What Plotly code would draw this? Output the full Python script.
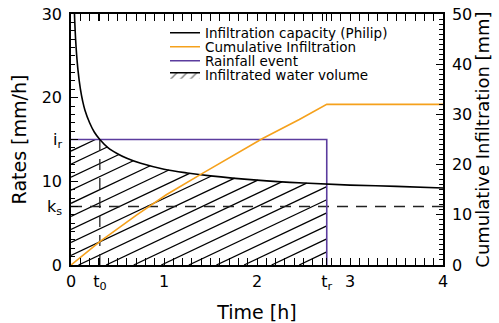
import numpy as np
import plotly.graph_objects as go

# ---------------- data ----------------
t_curve = [0.03, 0.04, 0.05, 0.06, 0.075, 0.1, 0.125, 0.15, 0.2, 0.25, 0.31, 0.4,
           0.5, 0.6, 0.75, 1.0, 1.25, 1.5, 2.0, 2.5, 3.0, 3.5, 4.0]
f_curve = [32.7, 29.2, 26.9, 25.2, 23.3, 21.1, 19.6, 18.5, 17.0, 15.9, 15.0, 14.0,
           13.3, 12.75, 12.15, 11.45, 11.0, 10.65, 10.15, 9.8, 9.55, 9.4, 9.2]

t_cum = [0, 0.31, 0.7, 1.025, 1.418, 2.06, 2.455, 2.75, 4.0]
F_cum = [0, 4.65, 9.9, 14.0, 18.3, 25.2, 29.0, 32.0, 32.0]

ir = 15.0      # rainfall intensity [mm/h]
ks = 7.0       # saturated conductivity [mm/h]
t0 = 0.31      # ponding time [h]
tr = 2.75      # end of rainfall [h]

x_tickvals = [0, t0, 1, 2, tr, 3, 4]
x_ticktext = ["0", "t<sub>0</sub>", "1", "2", "t<sub>r</sub>", "3", "4"]
y_tickvals = [0, ks, 10, ir, 20, 30]
y_ticktext = ["0", "k<sub>s</sub>", "10", "i<sub>r</sub>", "20", "30"]
y2_tickvals = [0, 10, 20, 30, 40, 50]

legend_labels = ["Infiltration capacity (Philip)", "Cumulative Infiltration",
                 "Rainfall event", "Infiltrated water volume"]

# ---------------- styles ----------------
BLACK = "#000000"
ORANGE = "#F5A11C"
PURPLE = "#5B3C9E"
FONT = "DejaVu Sans"

# ---------------- hatch lines clipped to infiltrated region ----------------
xs = np.linspace(0, tr, 4000)
top = np.minimum(ir, np.interp(xs, t_curve, f_curve))
slope = 5.26      # hatch slope (data units / h)
spacing = 1.56    # vertical hatch spacing (data units)
hx, hy = [], []
b = -slope * tr
while b < ir + spacing:
    yl = slope * xs + b
    m = (yl >= 0) & (yl <= top)
    if m.any():
        idx = np.where(m)[0]
        i0, i1 = idx[0], idx[-1]
        hx += [float(xs[i0]), float(xs[i1]), None]
        hy += [float(yl[i0]), float(yl[i1]), None]
    b += spacing

fig = go.Figure()

fig.add_trace(go.Scatter(x=hx, y=hy, mode="lines", line=dict(color=BLACK, width=1.3),
                         showlegend=False, hoverinfo="skip"))
fig.add_trace(go.Scatter(x=[0, 4], y=[ks, ks], mode="lines",
                         line=dict(color="#222", width=1.5, dash="11px,8px"),
                         showlegend=False))
fig.add_trace(go.Scatter(x=[t0, t0], y=[0, ir], mode="lines",
                         line=dict(color="#222", width=1.3, dash="11px,8px"),
                         showlegend=False))
fig.add_trace(go.Scatter(x=[0, tr, tr], y=[ir, ir, 0], mode="lines",
                         line=dict(color=PURPLE, width=1.6), name=legend_labels[2],
                         legend="legend3"))
fig.add_trace(go.Scatter(x=t_curve, y=f_curve, mode="lines",
                         line=dict(color=BLACK, width=1.6, shape="spline"),
                         name=legend_labels[0], legend="legend"))
fig.add_trace(go.Scatter(x=t_cum, y=F_cum, mode="lines", yaxis="y2",
                         line=dict(color=ORANGE, width=1.6),
                         name=legend_labels[1], legend="legend2"))
# legend entry for the hatched volume (no data drawn)
fig.add_trace(go.Scatter(x=[None], y=[None], mode="lines", fill="toself",
                         fillcolor="white", line=dict(color=BLACK, width=1.5),
                         fillpattern=dict(shape="/", fgcolor=BLACK, bgcolor="white",
                                          size=7, solidity=0.2),
                         name=legend_labels[3], legend="legend4"))

# ---------------- layout ----------------
L, R, T, B = 71, 56, 14, 58
W, H = 499, 323
PW, PH = W - L - R, H - T - B


def px(xp):
    return (xp - L) / PW


def py(yp):
    return (H - B - yp) / PH


tickfont = dict(family=FONT, size=16, color=BLACK)
titlefont = dict(family=FONT, size=19, color=BLACK)
minor_common = dict(ticks="inside", ticklen=4, tickcolor=BLACK)
x_minor = [round(v, 2) for v in np.arange(0, 4.001, 0.1)]
y_minor = list(range(0, 31))
y2_minor = list(range(0, 51))

legfont = dict(family=FONT, size=13.5, color=BLACK)
leg_y = [33, 47, 61, 75]
legs = {}
for i, name in enumerate(["legend", "legend2", "legend3", "legend4"]):
    legs[name] = dict(x=px(165), y=py(leg_y[i]), xanchor="left", yanchor="middle",
                      xref="paper", yref="paper", bgcolor="rgba(0,0,0,0)",
                      borderwidth=0, font=legfont, itemwidth=30)

fig.update_layout(
    width=W, height=H,
    margin=dict(l=L, r=R, t=T, b=B),
    plot_bgcolor="white",
    showlegend=True,
    xaxis=dict(range=[0, 4], tickmode="array", tickvals=x_tickvals, ticktext=x_ticktext,
               ticks="inside", ticklen=7, tickcolor=BLACK, automargin=False,
               showline=True, linecolor=BLACK, linewidth=1.5, mirror="allticks",
               showgrid=False, zeroline=False, tickfont=tickfont, ticklabelstandoff=1,
               minor=dict(tickmode="array", tickvals=x_minor, **minor_common),
               title=dict(text="Time [h]", font=titlefont, standoff=15)),
    yaxis=dict(range=[0, 30], tickmode="array", tickvals=y_tickvals, ticktext=y_ticktext,
               ticks="inside", ticklen=7, tickcolor=BLACK, automargin=False,
               showline=True, linecolor=BLACK, linewidth=1.5,
               showgrid=False, zeroline=False, tickfont=tickfont, ticklabelstandoff=4,
               minor=dict(tickmode="array", tickvals=y_minor, **minor_common),
               title=dict(text="Rates [mm/h]", font=titlefont, standoff=10)),
    yaxis2=dict(range=[0, 50], overlaying="y", side="right", tickmode="array",
                tickvals=y2_tickvals, automargin=False,
                ticks="inside", ticklen=7, tickcolor=BLACK,
                showline=True, linecolor=BLACK, linewidth=1.5,
                showgrid=False, zeroline=False, tickfont=tickfont, ticklabelstandoff=4,
                minor=dict(tickmode="array", tickvals=y2_minor, **minor_common),
                title=dict(text="Cumulative Infiltration [mm]",
                           font=dict(family=FONT, size=18, color=BLACK), standoff=5)),
    **legs,
)

fig.write_html("out.html", config={"displayModeBar": False},
               post_script="document.body.style.margin='0';document.body.style.overflow='hidden';")
